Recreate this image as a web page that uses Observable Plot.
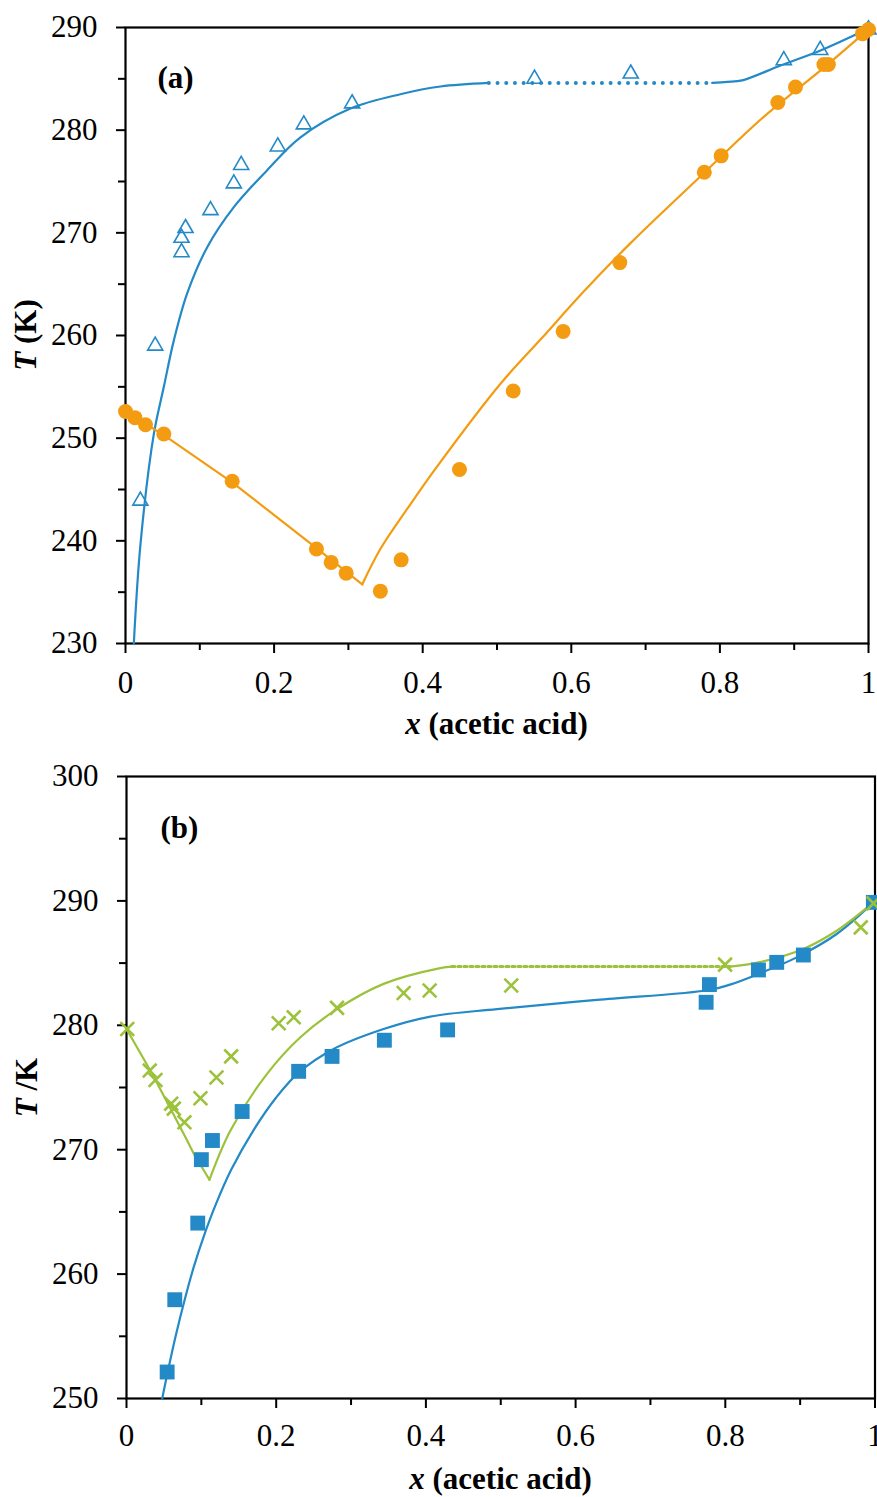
<!DOCTYPE html>
<html>
<head>
<meta charset="utf-8">
<script src="https://cdn.jsdelivr.net/npm/d3@7"></script>
<script src="https://cdn.jsdelivr.net/npm/@observablehq/plot@0.6"></script>
<style>
  html, body { margin: 0; padding: 0; background: #fff; }
  #chart svg { display: block; }
</style>
</head>
<body>
<div id="chart"></div>
<script>
// ---------- Panel (a): experimental points ----------
const aTriX = [0.020, 0.040, 0.0754, 0.0754, 0.0808, 0.1144, 0.1458, 0.1557, 0.205, 0.240, 0.305, 0.5505, 0.680, 0.886, 0.935, 1.0];
const aTriT = [243.9, 259.0, 268.1, 269.5, 270.45, 272.2, 274.8, 276.6, 278.4, 280.55, 282.6, 285.0, 285.5, 286.8, 287.8, 289.8];

const aDotX = [0, 0.0126, 0.0269, 0.0516, 0.1436, 0.257, 0.2768, 0.297, 0.343, 0.371, 0.4495, 0.5218, 0.589, 0.6653, 0.779, 0.8017, 0.878, 0.9017, 0.940, 0.946, 0.992, 1.0];
const aDotT = [252.6, 252.0, 251.3, 250.4, 245.8, 239.2, 237.9, 236.85, 235.1, 238.15, 246.95, 254.6, 260.4, 267.1, 275.9, 277.5, 282.7, 284.2, 286.4, 286.4, 289.4, 289.8];

// ---------- Panel (a): model curves ----------
const aBlue1X = [0.0112, 0.0202, 0.0381, 0.0516, 0.065, 0.083, 0.11, 0.1458, 0.1907, 0.2355, 0.3028, 0.370, 0.424, 0.489];
const aBlue1T = [230, 239.7, 250.4, 255.0, 259.5, 264.1, 268.6, 272.5, 276.1, 279.3, 282.1, 283.5, 284.25, 284.6];
const aBlueDotX = [0.489, 0.7896];
const aBlueDotT = [284.6, 284.6];
const aBlue2X = [0.7896, 0.81, 0.83, 0.8816, 0.9354, 1.0];
const aBlue2T = [284.6, 284.7, 284.85, 286.3, 287.76, 289.9];

const aOrange1X = [0, 0.0516, 0.1436, 0.257, 0.3186];
const aOrange1T = [252.6, 250.3, 245.7, 239.3, 235.75];
const aOrange2X = [0.3186, 0.343, 0.38, 0.42, 0.5047, 0.5585, 0.617, 0.6797, 0.7694, 0.859, 0.94, 0.998];
const aOrange2T = [235.75, 239.2, 243.2, 247.3, 255.3, 259.6, 264.3, 269.0, 275.2, 281.3, 286.1, 289.7];

// ---------- Panel (b): experimental points ----------
const bSqX = [0.0543, 0.0645, 0.0952, 0.1, 0.1148, 0.1545, 0.230, 0.2746, 0.3445, 0.429, 0.7744, 0.7788, 0.8443, 0.8687, 0.9043, 0.9978];
const bSqT = [252.13, 257.94, 264.1, 269.2, 270.74, 273.07, 276.3, 277.5, 278.8, 279.63, 281.85, 283.27, 284.45, 285.06, 285.65, 289.88];

const bCrossX = [0.001, 0.031, 0.0387, 0.0597, 0.0632, 0.0774, 0.0988, 0.1202, 0.1398, 0.2033, 0.2234, 0.2813, 0.3703, 0.405, 0.514, 0.7997, 0.981, 0.998];
const bCrossT = [279.7, 276.36, 275.6, 273.7, 273.3, 272.2, 274.14, 275.8, 277.5, 280.16, 280.64, 281.4, 282.6, 282.8, 283.2, 284.88, 287.87, 289.8];

// ---------- Panel (b): model curves ----------
const bBlueX = [0.0477, 0.056, 0.066, 0.078, 0.09, 0.103, 0.12, 0.14, 0.17, 0.2, 0.23, 0.2768, 0.3435, 0.4059, 0.4949, 0.6284, 0.7788, 0.8064, 0.8443, 0.8954, 0.9488, 0.9978];
const bBlueT = [250, 252.4, 255.1, 258.0, 260.6, 263.0, 265.7, 268.4, 271.6, 274.2, 276.2, 278.1, 279.7, 280.7, 281.3, 282.04, 282.84, 283.27, 284.13, 285.46, 287.34, 289.88];

const bGreen1X = [0, 0.0343, 0.0788, 0.0899, 0.1108];
const bGreen1T = [279.7, 276.1, 271.0, 269.67, 267.58];
const bGreen2X = [0.1108, 0.1389, 0.1878, 0.2323, 0.2813, 0.3435, 0.4192, 0.4348];
const bGreen2T = [267.58, 271.54, 276.1, 279.04, 281.3, 283.33, 284.6, 284.72];
const bGreenDotX = [0.4348, 0.8064];
const bGreenDotT = [284.72, 284.72];
const bGreen3X = [0.8064, 0.8443, 0.9043, 0.9488, 0.9978];
const bGreen3T = [284.72, 285.06, 286.14, 287.6, 289.88];

// ---------- Axis ticks ----------
const xMajor = [0, 0.2, 0.4, 0.6, 0.8, 1];
const xMinor = [0.1, 0.3, 0.5, 0.7, 0.9];
const aTMajor = [230, 240, 250, 260, 270, 280, 290];
const aTMinor = [235, 245, 255, 265, 275, 285];
const bTMajor = [250, 260, 270, 280, 290, 300];
const bTMinor = [255, 265, 275, 285, 295];

// ---------- Styling ----------
const blue = "#2389c7";
const orange = "#f39c12";
const green = "#9cc23b";
const serif = "'Liberation Serif', 'Times New Roman', serif";
const fontPx = 31;

const pts = (xs, ts) => xs.map((x, i) => ({x, T: ts[i]}));

function axes(tMajor, tMinor, xPad) {
  return [
    Plot.axisY(tMajor, {tickSize: 9, tickPadding: 19, strokeWidth: 2, label: null, tickFormat: d => String(d)}),
    Plot.axisY(tMinor, {tickSize: 7, strokeWidth: 2, fill: "none", label: null}),
    Plot.axisX(xMajor, {tickSize: 10, tickPadding: xPad, strokeWidth: 2, label: null, tickFormat: d => String(d)}),
    Plot.axisX(xMinor, {tickSize: 7, strokeWidth: 2, fill: "none", label: null}),
    Plot.frame({stroke: "black", strokeWidth: 2.2})
  ];
}

const fit = (data, color, curve = "catmull-rom") =>
  Plot.line(data, {x: "x", y: "T", stroke: color, strokeWidth: 2.2, curve});

function addTitle(svg, x, y, rotate, parts) {
  const t = d3.select(svg).append("text")
    .attr("transform", `translate(${x},${y})` + (rotate ? " rotate(-90)" : ""))
    .attr("text-anchor", "middle")
    .attr("font-family", serif)
    .attr("font-size", fontPx)
    .attr("font-weight", "bold")
    .attr("fill", "black");
  for (const [s, italic] of parts) {
    t.append("tspan").attr("font-style", italic ? "italic" : "normal").text(s);
  }
}

const styleOpts = {fontFamily: serif, fontSize: fontPx + "px", color: "black", background: "white", overflow: "visible"};

// ---------- Panel (a) ----------
const plotA = Plot.plot({
  width: 877,
  height: 745,
  marginTop: 27,
  marginLeft: 125,
  marginRight: 9,
  marginBottom: 102,
  x: {domain: [0, 1]},
  y: {domain: [230, 290]},
  style: styleOpts,
  marks: [
    ...axes(aTMajor, aTMinor, 17),
    fit(pts(aBlue1X, aBlue1T), blue),
    Plot.line(pts(aBlueDotX, aBlueDotT), {x: "x", y: "T", stroke: blue, strokeWidth: 4, strokeDasharray: "0 8.7", strokeLinecap: "round"}),
    fit(pts(aBlue2X, aBlue2T), blue),
    fit(pts(aOrange1X, aOrange1T), orange, "linear"),
    fit(pts(aOrange2X, aOrange2T), orange),
    Plot.dot(pts(aTriX, aTriT), {x: "x", y: "T", symbol: "triangle", r: 5.6, stroke: blue, strokeWidth: 1.6, fill: "none"}),
    Plot.dot(pts(aDotX, aDotT), {x: "x", y: "T", r: 7.5, fill: orange, stroke: "none"}),
    Plot.text(["(a)"], {text: d => d, frameAnchor: "top-left", dx: 32, dy: 51, lineAnchor: "middle", textAnchor: "start", fontWeight: "bold", fontSize: fontPx})
  ]
});
addTitle(plotA, 36, 335, true, [["T", true], [" (K)", false]]);
addTitle(plotA, 496.5, 734, false, [["x", true], [" (acetic acid)", false]]);

// ---------- Panel (b) ----------
const plotB = Plot.plot({
  width: 877,
  height: 752,
  marginTop: 31,
  marginLeft: 126,
  marginRight: 2.5,
  marginBottom: 99,
  x: {domain: [0, 1]},
  y: {domain: [250, 300]},
  style: styleOpts,
  marks: [
    ...axes(bTMajor, bTMinor, 15),
    fit(pts(bBlueX, bBlueT), blue),
    fit(pts(bGreen1X, bGreen1T), green, "linear"),
    fit(pts(bGreen2X, bGreen2T), green),
    Plot.line(pts(bGreenDotX, bGreenDotT), {x: "x", y: "T", stroke: green, strokeWidth: 3, strokeDasharray: "3 3"}),
    fit(pts(bGreen3X, bGreen3T), green),
    Plot.dot(pts(bSqX, bSqT), {x: "x", y: "T", symbol: "square", r: 8.4, fill: blue, stroke: "none"}),
    Plot.dot(pts(bCrossX, bCrossT), {x: "x", y: "T", symbol: "times", r: 6.3, stroke: green, strokeWidth: 2.6}),
    Plot.text(["(b)"], {text: d => d, frameAnchor: "top-left", dx: 34, dy: 52, lineAnchor: "middle", textAnchor: "start", fontWeight: "bold", fontSize: fontPx})
  ]
});
addTitle(plotB, 37, 342.5, true, [["T", true], [" /K", false]]);
addTitle(plotB, 500.5, 744, false, [["x", true], [" (acetic acid)", false]]);

document.getElementById("chart").append(plotA, plotB);
</script>
</body>
</html>
